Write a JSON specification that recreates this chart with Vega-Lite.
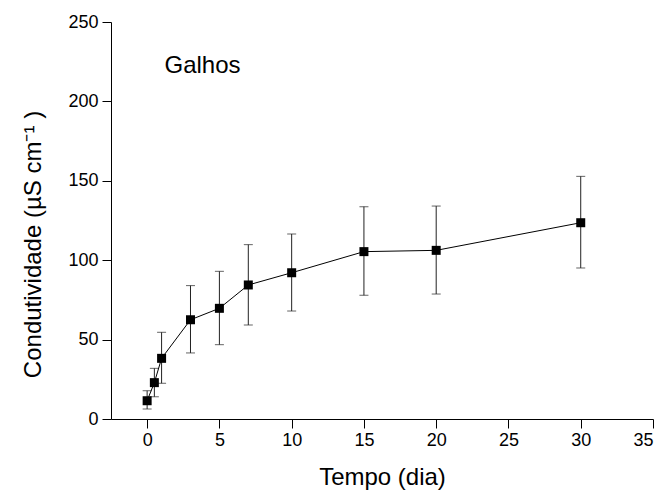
{
  "$schema": "https://vega.github.io/schema/vega-lite/v6.json",
  "width": 542,
  "height": 397,
  "autosize": {"type": "none"},
  "padding": {"left": 111, "top": 22, "right": 18, "bottom": 83},
  "background": "white",
  "config": {
    "view": {"stroke": null},
    "font": "Liberation Sans",
    "axis": {
      "grid": false,
      "domainColor": "black",
      "tickColor": "black",
      "tickSize": 9,
      "domainWidth": 1,
      "tickWidth": 1,
      "labelFont": "Liberation Sans",
      "labelFontSize": 18,
      "labelColor": "black",
      "titleFont": "Liberation Sans",
      "titleFontSize": 24,
      "titleFontWeight": "normal",
      "titleColor": "black"
    }
  },
  "datasets": {
    "pts": [
      {"dia": 0, "cond": 11.5, "lo": 6.3, "hi": 17.8},
      {"dia": 0.5, "cond": 22.9, "lo": 14.0, "hi": 31.9},
      {"dia": 1, "cond": 38.2, "lo": 22.5, "hi": 54.6},
      {"dia": 3, "cond": 62.5, "lo": 41.6, "hi": 84.0},
      {"dia": 5, "cond": 69.7, "lo": 46.8, "hi": 93.0},
      {"dia": 7, "cond": 84.4, "lo": 59.2, "hi": 109.8},
      {"dia": 10, "cond": 92.1, "lo": 68.0, "hi": 116.5},
      {"dia": 15, "cond": 105.4, "lo": 77.9, "hi": 133.7},
      {"dia": 20, "cond": 106.2, "lo": 78.7, "hi": 134.1},
      {"dia": 30, "cond": 123.6, "lo": 95.1, "hi": 152.8}
    ],
    "lbl": [{"dia": 1.2, "cond": 222, "text": "Galhos"}]
  },
  "layer": [
    {
      "data": {"name": "pts"},
      "mark": {"type": "errorbar", "ticks": {"size": 9, "color": "#222", "strokeWidth": 1}, "rule": {"color": "#222", "strokeWidth": 1}},
      "encoding": {
        "x": {"field": "dia", "type": "quantitative",
              "scale": {"domain": [-2.5, 35], "nice": false, "zero": false},
              "axis": {"values": [0, 5, 10, 15, 20, 25, 30, 35], "title": "Tempo (dia)", "titlePadding": 16, "labelPadding": 3}},
        "y": {"field": "lo", "type": "quantitative",
              "scale": {"domain": [0, 250], "nice": false},
              "axis": {"values": [0, 50, 100, 150, 200, 250], "title": "Condutividade (µS cm⁻¹ )", "titlePadding": 22, "labelPadding": 4, "titleY": 222}},
        "y2": {"field": "hi"}
      }
    },
    {
      "data": {"name": "pts"},
      "mark": {"type": "line", "color": "black", "strokeWidth": 1},
      "encoding": {
        "x": {"field": "dia", "type": "quantitative"},
        "y": {"field": "cond", "type": "quantitative"}
      }
    },
    {
      "data": {"name": "pts"},
      "mark": {"type": "point", "shape": "square", "filled": true, "color": "black", "size": 81, "opacity": 1},
      "encoding": {
        "x": {"field": "dia", "type": "quantitative"},
        "y": {"field": "cond", "type": "quantitative"}
      }
    },
    {
      "data": {"name": "lbl"},
      "mark": {"type": "text", "align": "left", "baseline": "middle", "fontSize": 24, "font": "Liberation Sans", "color": "black"},
      "encoding": {
        "x": {"field": "dia", "type": "quantitative"},
        "y": {"field": "cond", "type": "quantitative"},
        "text": {"field": "text"}
      }
    }
  ]
}
